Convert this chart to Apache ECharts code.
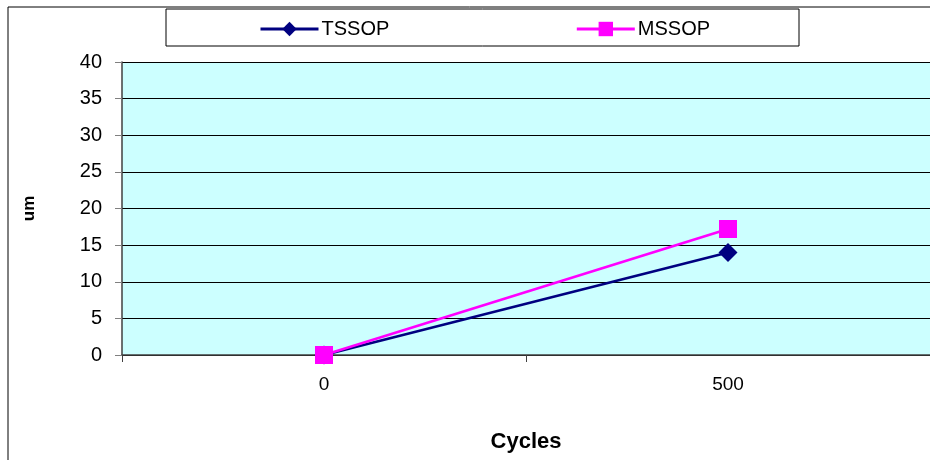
<!DOCTYPE html>
<html><head><meta charset="utf-8">
<script src="https://cdn.jsdelivr.net/npm/echarts@6/dist/echarts.min.js"></script>
<style>html,body{margin:0;padding:0;background:#fff}#c{width:930px;height:460px}</style>
</head><body><div id="c"></div>
<script>
const categories = ['0', '500'];
const tssop = [0, 14];
const mssop = [0, 17.2];
const seriesNames = ['TSSOP', 'MSSOP'];

const chart = echarts.init(document.getElementById('c'));
const font = 'Liberation Sans, Arial, sans-serif';
chart.setOption({
  animation: false,
  textStyle: { fontFamily: font },
  graphic: [
    { type: 'rect', shape: { x: 8, y: 7, width: 1000, height: 1000 }, style: { fill: 'none', stroke: '#000', lineWidth: 1 }, silent: true, z: -10 },
    { type: 'rect', shape: { x: 166, y: 9, width: 633, height: 37 }, style: { fill: '#fff', stroke: '#000', lineWidth: 1 }, silent: true, z: -5 }
  ],
  legend: {
    data: seriesNames,
    left: 254, top: 14,
    itemWidth: 58, itemHeight: 18, itemGap: 186,
    lineStyle: { width: 3 },
    textStyle: { fontSize: 20, color: '#000', fontFamily: font, padding: [0, 0, 0, -2] }
  },
  grid: { left: 122, top: 62, width: 812, height: 293, show: true, backgroundColor: '#CCFFFF', borderWidth: 0 },
  xAxis: {
    type: 'category', data: categories, boundaryGap: true,
    name: 'Cycles', nameLocation: 'middle', nameGap: 76,
    nameTextStyle: { fontSize: 22, fontWeight: 'bold', color: '#000', fontFamily: font },
    axisLine: { lineStyle: { color: '#404040', width: 1.5 } },
    axisTick: { show: true, length: 7, inside: false, lineStyle: { color: '#404040' } },
    axisLabel: { fontSize: 19, color: '#000', margin: 20, fontFamily: font },
    splitLine: { show: false }
  },
  yAxis: {
    type: 'value', min: 0, max: 40, interval: 5,
    name: 'um', nameLocation: 'middle', nameGap: 84, nameRotate: 90,
    nameTextStyle: { fontSize: 17, fontWeight: 'bold', color: '#000', fontFamily: font },
    axisLine: { show: true, lineStyle: { color: '#404040', width: 1.5 } },
    axisTick: { show: true, length: 7, lineStyle: { color: '#808080' } },
    axisLabel: { fontSize: 20, color: '#000', margin: 20, fontFamily: font },
    splitLine: { show: true, lineStyle: { color: '#000', width: 1 } }
  },
  series: [
    { name: seriesNames[0], type: 'line', data: tssop, symbol: 'diamond', symbolSize: 19,
      lineStyle: { color: '#000080', width: 2.5 }, itemStyle: { color: '#000080' }, z: 2 },
    { name: seriesNames[1], type: 'line', data: mssop, symbol: 'rect', symbolSize: 18,
      lineStyle: { color: '#FF00FF', width: 2.5 }, itemStyle: { color: '#FF00FF' }, z: 3 }
  ]
});
</script></body></html>
